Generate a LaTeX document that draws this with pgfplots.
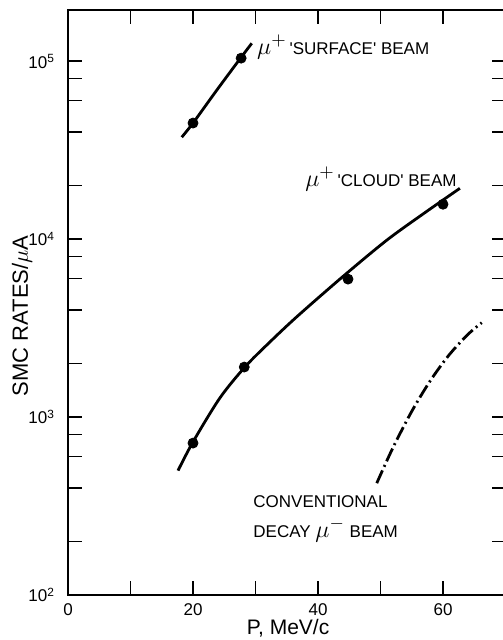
\documentclass[border=0pt]{standalone}
\usepackage{pgfplots}
\pgfplotsset{compat=1.18}
\usepackage{fontspec}
\setmainfont{Liberation Sans}
\newcommand{\mubig}[1]{{\fontsize{12.5}{12}\selectfont$\mu^{#1}$}}
\newcommand{\q}{\textquotesingle}
\begin{document}
\begin{tikzpicture}
\begin{axis}[
  at={(0,0)}, anchor=south west,
  scale only axis, width=218.75pt, height=292.5pt,
  xmin=0, xmax=70, ymode=log, ymin=100, ymax=1.94e5,
  xtick={0,10,...,60}, xticklabels={0,,20,,40,,60},
  ytick={100,1000,10000,100000},
  yticklabels={10\textsuperscript{2},10\textsuperscript{3},10\textsuperscript{4},10\textsuperscript{5}},
  minor ytick={200,400,600,800,2000,4000,6000,8000,20000,40000,60000,80000},
  tick align=inside,
  major tick length=7pt, minor tick length=7pt,
  every tick/.style={line width=0.8pt, black},
  axis line style={line width=1pt},
  ticklabel style={font=\fontsize{8.5}{10}\selectfont},
  xticklabel style={yshift=-1pt},
  yticklabel style={xshift=-3pt},
  /pgf/number format/assume math mode=true,
  xlabel={P, MeV/c},
  ylabel={SMC RATES/$\mu$A},
  every axis x label/.style={at={(axis description cs:0.503,-0.056)}, anchor=center, font=\fontsize{10.5}{12}\selectfont},
  every axis y label/.style={at={(axis description cs:-0.105,0.477)}, anchor=center, rotate=90, font=\fontsize{11}{12}\selectfont},
  clip=false,
]
% mu+ surface beam curve
\addplot[black, line width=1.4pt, smooth] coordinates {
  (18.2,37400) (20,44900) (23.8,68700) (27.6,104000) (29.4,126000)
};
\addplot[black, only marks, mark=*, mark size=2.5pt] coordinates {
  (20,44900) (27.7,104000)
};
% mu+ cloud beam curve
\addplot[black, line width=1.4pt, smooth] coordinates {
  (17.6,500) (20,725) (24.3,1280) (28.3,1910) (32,2580) (36.6,3660)
  (44,6170) (51,9860) (57,14000) (62.7,19300)
};
\addplot[black, only marks, mark=*, mark size=2.5pt] coordinates {
  (20,714) (28.2,1910) (44.8,5960) (60,15700)
};
% conventional decay mu- beam
\addplot[black, line width=1.4pt, smooth, dash pattern=on 7pt off 2pt on 1pt off 2pt] coordinates {
  (49.4,425) (52,674) (55,1077) (58,1607) (61,2240) (64,2917) (66.2,3390)
};
\node[anchor=west, inner sep=0pt, font=\fontsize{8.5}{10}\selectfont] at (axis cs:30.2,120000) {\mubig{+}\,\q SURFACE\q\ BEAM};
\node[anchor=west, inner sep=0pt, font=\fontsize{8.5}{10}\selectfont] at (axis cs:37.9,21700) {\mubig{+}\,\q CLOUD\q\ BEAM};
\node[anchor=west, inner sep=0pt, font=\fontsize{8.5}{10}\selectfont] at (axis cs:29.6,333) {CONVENTIONAL};
\node[anchor=west, inner sep=0pt, font=\fontsize{8.5}{10}\selectfont] at (axis cs:29.6,232) {DECAY \mubig{-}\ BEAM};
\end{axis}
\pgfresetboundingbox
\useasboundingbox (-34pt,-22.5pt) rectangle (217pt,297.5pt);
\end{tikzpicture}
\end{document}
